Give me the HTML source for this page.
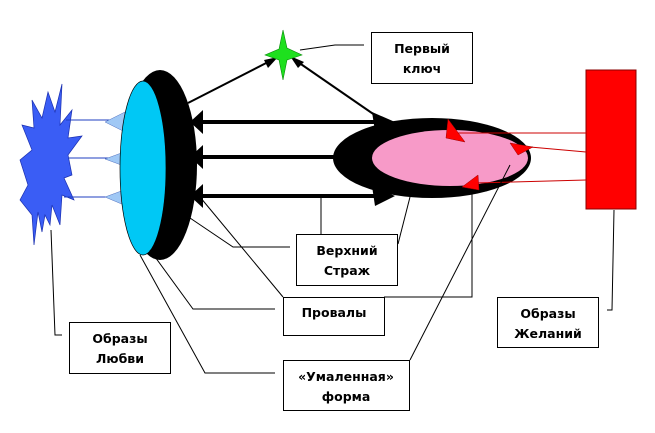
<!DOCTYPE html>
<html><head><meta charset="utf-8"><style>
html,body{margin:0;padding:0;background:#fff;width:655px;height:433px;overflow:hidden}
svg{display:block}
text{font-family:"DejaVu Sans","Liberation Sans",sans-serif;font-size:12.5px;font-weight:bold;fill:#000}
</style></head><body>
<svg width="655" height="433" viewBox="0 0 655 433" xmlns="http://www.w3.org/2000/svg">
<!-- blue star -->
<polygon fill="#3a5df5" stroke="#1a2fb0" stroke-width="0.7" points="62,84 60,125 72,110 68,138 82,136 68,155 72,175 64,178 74,200 62,195 60,225 52,205 50,225 45,215 42,232 38,212 34,245 32,215 20,200 28,185 20,160 32,150 22,125 34,128 32,100 42,118 48,92 55,112"/>
<!-- blue lines -->
<g stroke="#1f3fc0" stroke-width="1"><line x1="66" y1="120" x2="118" y2="120"/><line x1="68" y1="158" x2="118" y2="158"/><line x1="64" y1="197" x2="118" y2="197"/></g>
<g fill="#a0c8f5" stroke="#5070c0" stroke-width="0.5">
<polygon points="105,122 125,112 125,132"/><polygon points="105,159 124,152 124,166"/><polygon points="105,197 124,190 124,205"/></g>
<!-- lens -->
<ellipse cx="160" cy="165" rx="37" ry="95" fill="#000"/>
<ellipse cx="143" cy="168" rx="23" ry="87" fill="#00c8f5" stroke="#000" stroke-width="0.7"/>
<!-- right black/pink ellipse -->
<ellipse cx="432" cy="158" rx="99" ry="40" fill="#000"/>
<ellipse cx="450" cy="158" rx="78" ry="28" fill="#f79ac8"/>
<!-- thick arrows -->
<g stroke="#000" stroke-width="4"><line x1="200" y1="122" x2="380" y2="122"/><line x1="200" y1="157" x2="345" y2="157"/><line x1="200" y1="196" x2="380" y2="196"/></g>
<g fill="#000">
<polygon points="190,122 203,110 203,134"/><polygon points="190,157 203,145 203,169"/><polygon points="190,196 203,184 203,208"/>
<polygon points="395,122 372,112 375,131"/><polygon points="395,196 372,186 375,206"/></g>
<!-- thin arrows to star -->
<g stroke="#000" stroke-width="2"><line x1="188" y1="103" x2="272" y2="60"/><line x1="295" y1="60" x2="382" y2="120"/></g>
<polygon points="278,57 264,60 268,68" fill="#000"/>
<polygon points="290,56 298,68 304,62" fill="#000"/>
<!-- green star -->
<polygon fill="#1ee01e" stroke="#0a8a0a" stroke-width="0.6" points="283,30 287,48 302,55 287,60 283,80 279,60 265,55 279,49"/>
<!-- red box & lines -->
<rect x="586" y="70" width="50" height="139" fill="#f00" stroke="#800" stroke-width="1"/>
<g stroke="#c00" stroke-width="1"><line x1="586" y1="133" x2="455" y2="133"/><line x1="586" y1="152" x2="530" y2="147"/><line x1="586" y1="180" x2="475" y2="183"/></g>
<g fill="#f00" stroke="#900" stroke-width="0.5">
<polygon points="448,119 446,138 465,142"/><polygon points="510,143 533,147 518,155"/><polygon points="478,175 462,187 479,190"/></g>
<!-- connectors -->
<g stroke="#000" stroke-width="1" fill="none">
<polyline points="300,50 335,45 364,45"/>
<polyline points="51,230 55,335 62,335"/>
<polyline points="614,210 612,310 607,310"/>
<line x1="200" y1="197" x2="283" y2="297"/>
<polyline points="190,218 233,247 290,247"/>
<line x1="321" y1="196" x2="321" y2="234"/>
<line x1="410" y1="197" x2="398" y2="244"/>
<polyline points="472,190 472,297 384,297"/>
<polyline points="150,250 193,309 275,309"/>
<polyline points="140,255 205,373 275,373"/>
<line x1="510" y1="165" x2="410" y2="360"/>
</g>
<!-- boxes -->
<g fill="#fff" stroke="#000" stroke-width="1">
<rect x="371.5" y="32.5" width="101" height="51"/>
<rect x="296.5" y="234.5" width="101" height="51"/>
<rect x="283.5" y="297.5" width="101" height="38"/>
<rect x="283.5" y="360.5" width="126" height="50"/>
<rect x="69.5" y="322.5" width="101" height="51"/>
<rect x="497.5" y="297.5" width="101" height="50"/>
</g>
<g text-anchor="middle">
<text x="422" y="53">Первый</text><text x="422" y="73">ключ</text>
<text x="347" y="255">Верхний</text><text x="347" y="275">Страж</text>
<text x="334" y="317">Провалы</text>
<text x="346" y="381">«Умаленная»</text><text x="346" y="401">форма</text>
<text x="120" y="343">Образы</text><text x="120" y="363">Любви</text>
<text x="548" y="318">Образы</text><text x="548" y="338">Желаний</text>
</g>
</svg>
</body></html>
